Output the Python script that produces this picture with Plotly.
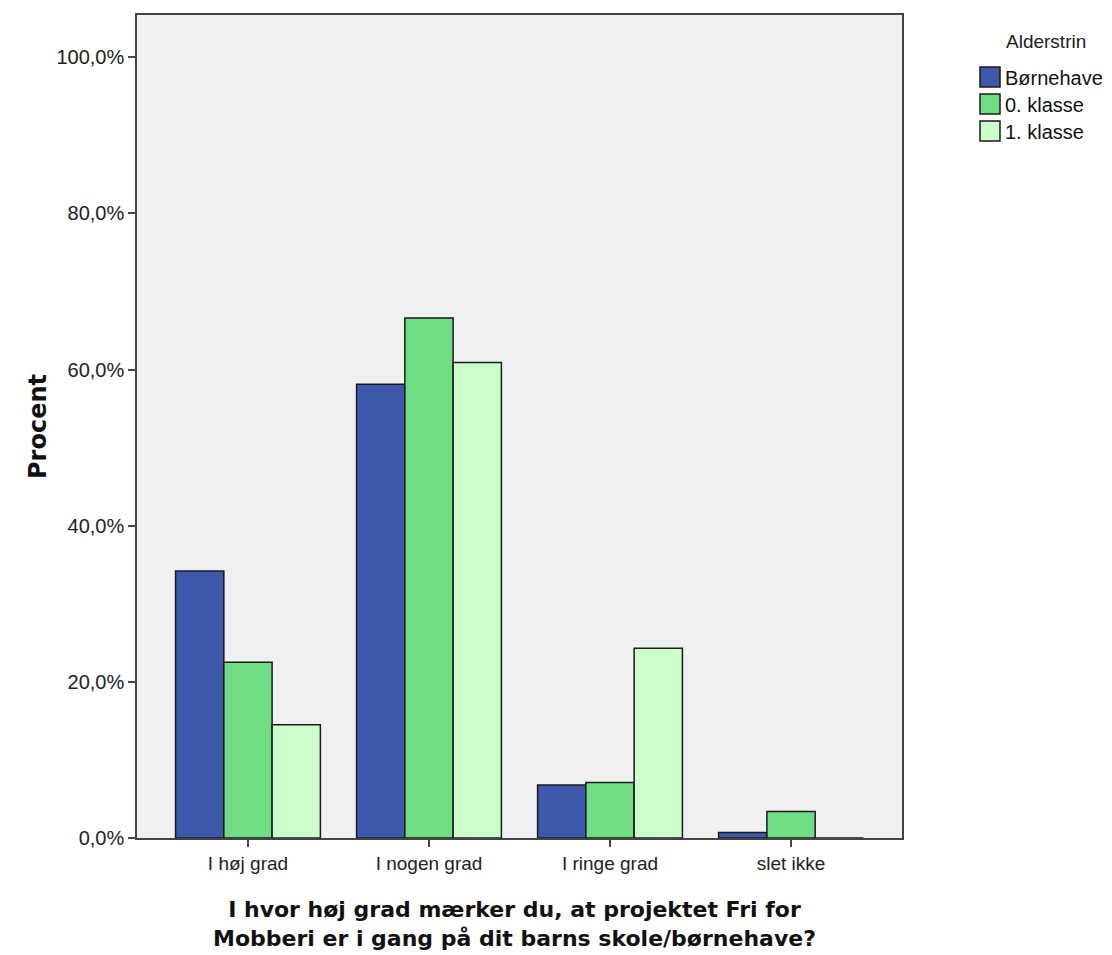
import plotly.graph_objects as go

categories = ["I høj grad", "I nogen grad", "I ringe grad", "slet ikke"]
series_names = ["Børnehave", "0. klasse", "1. klasse"]
boernehave = [34.2, 58.1, 6.8, 0.7]
klasse0 = [22.5, 66.6, 7.1, 3.4]
klasse1 = [14.5, 60.9, 24.3, 0.0]
colors = ["#3E58AC", "#70DC84", "#CCFFCC"]
y_ticks = [0, 20, 40, 60, 80, 100]
y_tick_labels = ["0,0%", "20,0%", "40,0%", "60,0%", "80,0%", "100,0%"]
legend_title = "Alderstrin"
x_title_lines = ["I hvor høj grad mærker du, at projektet Fri for",
                 "Mobberi er i gang på dit barns skole/børnehave?"]
y_title = "Procent"

# plot area in pixels (within the figure) for placing legend / titles
PL, PR, PT, PB = 137, 902, 15, 838
def px(x):
    return (x - PL) / (PR - PL)
def py(y):
    return (PB - y) / (PB - PT)

fig = go.Figure()
for name, vals, col in zip(series_names, [boernehave, klasse0, klasse1], colors):
    fig.add_trace(go.Bar(
        x=categories, y=vals, name=name,
        marker=dict(color=col, line=dict(color="#1a1a1a", width=1.5)),
        showlegend=False,
    ))

# custom legend
shapes = []
annotations = []
annotations.append(dict(x=px(1046), y=py(42), xref="paper", yref="paper",
                        text=legend_title, showarrow=False, xanchor="center", yanchor="middle",
                        font=dict(family="Liberation Sans, Arial, sans-serif", size=19, color="#222")))
for i, (name, col) in enumerate(zip(series_names, colors)):
    cy = 77 + i * 27
    shapes.append(dict(type="rect", xref="paper", yref="paper",
                       x0=px(980), x1=px(1000), y0=py(cy + 10), y1=py(cy - 10),
                       fillcolor=col, line=dict(color="#1a1a1a", width=1.5)))
    annotations.append(dict(x=px(1003), y=py(cy + 1), xref="paper", yref="paper",
                            text=name, showarrow=False, xanchor="left", yanchor="middle",
                            font=dict(family="Liberation Sans, Arial, sans-serif", size=20, color="#111")))

# x-axis title (two lines)
annotations.append(dict(x=px(514), y=py(924), xref="paper", yref="paper",
                        text="<br>".join("<b>" + line + "</b>" for line in x_title_lines),
                        showarrow=False, xanchor="center", yanchor="middle",
                        font=dict(family="DejaVu Sans, sans-serif", size=22, color="#111")))

fig.update_layout(
    width=1104, height=947,
    margin=dict(l=129, r=210, t=7, b=117, autoexpand=False),
    paper_bgcolor="white",
    plot_bgcolor="#F0F0F0",
    barmode="group", bargap=0.2, bargroupgap=0,
    font=dict(family="Liberation Sans, Arial, sans-serif", color="#222"),
    shapes=shapes,
    annotations=annotations,
    showlegend=False,
)
fig.update_xaxes(
    range=[-0.613, 3.613],
    showline=True, linecolor="#444", linewidth=1.5, mirror=True,
    ticks="outside", ticklen=7, tickwidth=1.5, tickcolor="#444",
    tickfont=dict(size=19, color="#222"),
    showgrid=False,
)
fig.update_yaxes(
    range=[0, 105.4],
    tickvals=y_ticks, ticktext=y_tick_labels,
    showline=True, linecolor="#444", linewidth=1.5, mirror=True,
    ticks="outside", ticklen=7, tickwidth=1.5, tickcolor="#444",
    tickfont=dict(size=20, color="#222"),
    title=dict(text="<b>" + y_title + "</b>",
               font=dict(family="DejaVu Sans, sans-serif", size=24, color="#111"), standoff=3),
    showgrid=False, zeroline=False,
)

fig.write_html("out.html")
